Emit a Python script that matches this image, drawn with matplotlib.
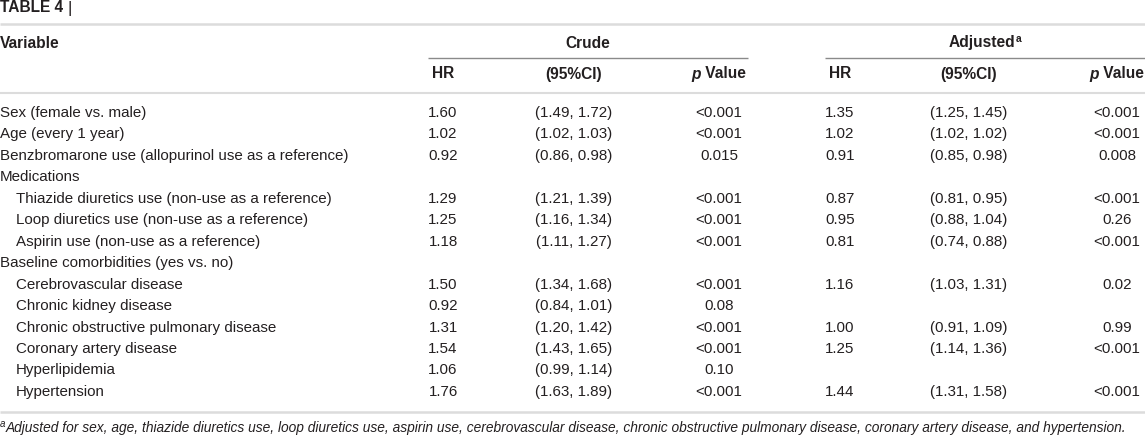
import matplotlib
matplotlib.use("Agg")
import matplotlib.pyplot as plt

variables = [
    "Sex (female vs. male)",
    "Age (every 1 year)",
    "Benzbromarone use (allopurinol use as a reference)",
    "Medications",
    "Thiazide diuretics use (non-use as a reference)",
    "Loop diuretics use (non-use as a reference)",
    "Aspirin use (non-use as a reference)",
    "Baseline comorbidities (yes vs. no)",
    "Cerebrovascular disease",
    "Chronic kidney disease",
    "Chronic obstructive pulmonary disease",
    "Coronary artery disease",
    "Hyperlipidemia",
    "Hypertension",
]
indent = [0, 0, 0, 0, 1, 1, 1, 0, 1, 1, 1, 1, 1, 1]
crude_hr = ["1.60", "1.02", "0.92", "", "1.29", "1.25", "1.18", "", "1.50", "0.92", "1.31", "1.54", "1.06", "1.76"]
crude_ci = ["(1.49, 1.72)", "(1.02, 1.03)", "(0.86, 0.98)", "", "(1.21, 1.39)", "(1.16, 1.34)", "(1.11, 1.27)", "",
            "(1.34, 1.68)", "(0.84, 1.01)", "(1.20, 1.42)", "(1.43, 1.65)", "(0.99, 1.14)", "(1.63, 1.89)"]
crude_p = ["<0.001", "<0.001", "0.015", "", "<0.001", "<0.001", "<0.001", "",
           "<0.001", "0.08", "<0.001", "<0.001", "0.10", "<0.001"]
adj_hr = ["1.35", "1.02", "0.91", "", "0.87", "0.95", "0.81", "", "1.16", "", "1.00", "1.25", "", "1.44"]
adj_ci = ["(1.25, 1.45)", "(1.02, 1.02)", "(0.85, 0.98)", "", "(0.81, 0.95)", "(0.88, 1.04)", "(0.74, 0.88)", "",
          "(1.03, 1.31)", "", "(0.91, 1.09)", "(1.14, 1.36)", "", "(1.31, 1.58)"]
adj_p = ["<0.001", "<0.001", "0.008", "", "<0.001", "0.26", "<0.001", "",
         "0.02", "", "0.99", "<0.001", "", "<0.001"]
title = "TABLE 4"
group_labels = ["Crude", "Adjusted"]
sub_headers = ["HR", "(95%CI)"]
footnote = ("Adjusted for sex, age, thiazide diuretics use, loop diuretics use, aspirin use, cerebrovascular disease, "
            "chronic obstructive pulmonary disease, coronary artery disease, and hypertension.")

BODY = "Liberation Sans"
TXT = "#231f20"
FS = 10.9
HFS = 11.2

W, H = 1145, 436
fig = plt.figure(figsize=(W / 100, H / 100), dpi=100)
ax = fig.add_axes([0, 0, 1, 1])
ax.set_xlim(0, W)
ax.set_ylim(H, 0)
ax.axis("off")
renderer = fig.canvas.get_renderer()


def rich(x, y, pieces, ha="left"):
    """pieces: list of (text, kwargs). Lay out horizontally in pixel space."""
    arts = []
    widths = []
    for t, kw in pieces:
        a = ax.text(0, y, t, va="center", ha="left", color=TXT, family=kw.get("family", BODY),
                    fontsize=kw.get("size", FS), fontweight=kw.get("weight", "normal"),
                    fontstyle=kw.get("style", "normal"))
        arts.append((a, kw))
        widths.append(a.get_window_extent(renderer).width)
    total = sum(widths)
    x0 = x - total / 2 if ha == "center" else (x - total if ha == "right" else x)
    cur = x0
    for (a, kw), w in zip(arts, widths):
        a.set_x(cur)
        if kw.get("rise"):
            a.set_y(y - kw["rise"])
        cur += w
    return arts


# title
rich(0, 8, [(title + " ", dict(weight="bold", size=11.2)), ("|", dict(size=12))])

# lines
ax.plot([0, W], [24, 24], color="#dcdcdc", lw=1.8, solid_capstyle="butt")
ax.plot([0, W], [93, 93], color="#dcdcdc", lw=1.5, solid_capstyle="butt")
ax.plot([0, W], [412, 412], color="#dcdcdc", lw=1.8, solid_capstyle="butt")
ax.plot([428, 748], [58, 58], color="#8a8a8a", lw=1.0, solid_capstyle="butt")
ax.plot([825, W], [58, 58], color="#8a8a8a", lw=1.0, solid_capstyle="butt")

# headers
rich(0, 43, [("Variable", dict(weight="bold", size=HFS))])
rich(588, 43, [(group_labels[0], dict(weight="bold", size=HFS))], ha="center")
rich(985, 43, [(group_labels[1], dict(weight="bold", size=HFS)), ("a", dict(weight="bold", size=7.5, rise=4))],
     ha="center")

col_x = [(443, 574, 719), (840, 969, 1117)]
for cx in col_x:
    rich(cx[0], 74, [(sub_headers[0], dict(weight="bold", size=HFS))], ha="center")
    rich(cx[1], 74, [(sub_headers[1], dict(weight="bold", size=HFS))], ha="center")
    rich(cx[2], 74, [("p", dict(weight="bold", style="italic", size=HFS)), (" Value", dict(weight="bold", size=HFS))],
         ha="center")

# rows
y0, dy = 113, 21.45
for i, v in enumerate(variables):
    y = y0 + i * dy
    rich(16 if indent[i] else 0, y, [(v, {})])
    for cx, vals in zip(col_x, [(crude_hr, crude_ci, crude_p), (adj_hr, adj_ci, adj_p)]):
        for xx, arr in zip(cx, vals):
            if arr[i]:
                rich(xx, y, [(arr[i], {})], ha="center")

# footnote: fit its width to the reference span
probe = ax.text(0, 0, footnote, fontsize=10, fontstyle="italic", family=BODY)
pw = probe.get_window_extent(renderer).width
probe.remove()
ffs = 10 * (1122 / pw)
rich(0, 428, [("a", dict(size=7, style="italic", rise=4)),
              (footnote, dict(style="italic", size=ffs))])

fig.savefig("out.png", dpi=100)
